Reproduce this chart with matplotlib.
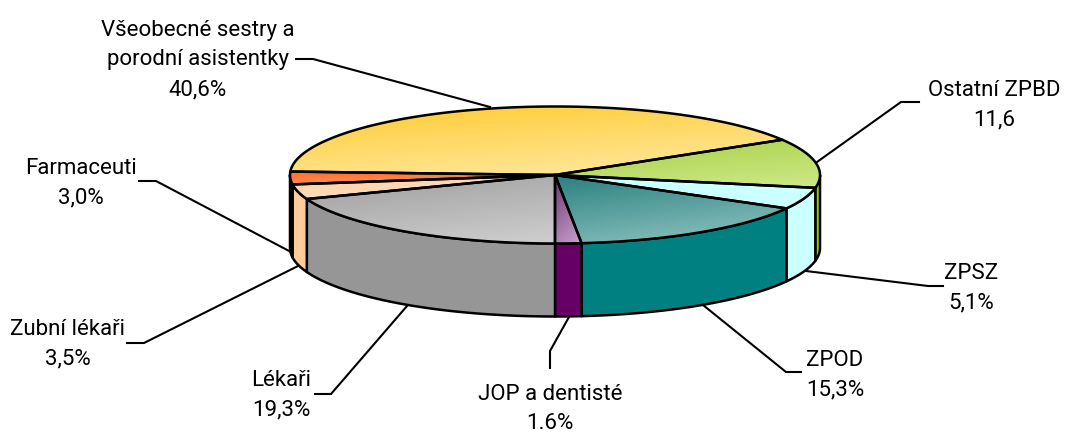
# 3D-style pie of health workers by group
import matplotlib
matplotlib.use('Agg')
import matplotlib.pyplot as plt
from matplotlib.colors import to_rgb
from matplotlib.patches import Polygon
import numpy as np

plt.rcParams['font.family'] = ['Roboto', 'Liberation Sans', 'DejaVu Sans']

# clockwise, starting at the yellow/green boundary
groups = ["Ostatní ZPBD", "ZPSZ", "ZPOD", "JOP a dentisté", "Lékaři",
          "Zubní lékaři", "Farmaceuti", "Všeobecné sestry a\nporodní asistentky"]
shares = [11.6, 5.1, 15.3, 1.6, 19.3, 3.5, 3.0, 40.6]
share_text = ["11,6", "5,1%", "15,3%", "1.6%", "19,3%", "3,5%", "3,0%", "40,6%"]

side_colors = ["#99CC00", "#CCFFFF", "#008080", "#660066", "#969696", "#FFCC99", "#FF6600", "#FFCC33"]
top_dark = ["#A6D044", "#CCFFFF", "#2A8080", "#6F3A70", "#9E9E9E", "#FFD3A8", "#FF6A2A", "#FFCB33"]
top_light = ["#CFE98A", "#CCFFFF", "#93C7C3", "#C9A3CF", "#CFCFCF", "#FFDDBC", "#FF9A60", "#FFEBA5"]

# label centre and leader line, pixels of the figure
label_pos = [(994, 105), (971, 288), (835, 375), (550, 409), (281, 395), (68, 344), (81, 183), (198, 60)]
leaders = [
    [(919, 103), (901, 103), (817, 163)],
    [(806, 272), (928, 287), (943, 287)],
    [(703, 306), (786, 373), (801, 373)],
    [(569, 318), (550, 352), (550, 369)],
    [(407, 307), (331, 395), (315, 395)],
    [(298, 267), (144, 344), (127, 344)],
    [(291, 253), (156, 182), (139, 182)],
    [(490, 108), (313, 60), (296, 60)],
]

cx, cy, rx, ry, depth = 555, 176, 265, 68.5, 73
start_angle = 30.96
edge_lw = 1.8


def rim(a0, a1, dy=0):
    t = np.radians(np.linspace(a0, a1, max(int(abs(a1 - a0) * 2), 2)))
    return np.column_stack([cx + rx * np.cos(t), cy + dy - ry * np.sin(t)])


fig = plt.figure(figsize=(10.65, 4.35), dpi=100)
ax = fig.add_axes([0, 0, 1, 1])
ax.set_xlim(0, 1065)
ax.set_ylim(435, 0)
ax.axis('off')

ends = start_angle - np.cumsum(shares) * 3.6
starts = np.concatenate([[start_angle], ends[:-1]])

# outer wall, only the front half can be seen
for a0, a1, col in zip(starts, ends, side_colors):
    lo, hi = max(a1, -180), min(a0, 0)
    if lo >= hi:
        continue
    pts = np.vstack([rim(hi, lo), rim(lo, hi, depth)])
    ax.add_patch(Polygon(pts, closed=True, fc=col, ec='black', lw=edge_lw, joinstyle='round', zorder=2))

# top face with a gradient clipped to each slice
for a0, a1, c0, c1 in zip(starts, ends, top_dark, top_light):
    pts = np.vstack([[(cx, cy)], rim(a0, a1)])
    x0, y0 = pts.min(axis=0)
    x1, y1 = pts.max(axis=0)
    u, v = np.meshgrid(np.linspace(0, 1, 80), np.linspace(0, 1, 80))
    t = (0.7 * v + 0.3 * u)[..., None]
    img = np.array(to_rgb(c0)) * (1 - t) + np.array(to_rgb(c1)) * t
    im = ax.imshow(img, extent=(x0, x1, y1, y0), aspect='auto', zorder=3, interpolation='bilinear')
    outline = Polygon(pts, closed=True, fc='none', ec='black', lw=edge_lw, joinstyle='round', zorder=4)
    ax.add_patch(outline)
    im.set_clip_path(outline)

ax.set_xlim(0, 1065)
ax.set_ylim(435, 0)

for line in leaders:
    xs, ys = zip(*line)
    ax.plot(xs, ys, color='black', lw=1.5, zorder=1, solid_joinstyle='miter')

for name, val, (x, y) in zip(groups, share_text, label_pos):
    ax.text(x, y, name + "\n" + val, ha='center', va='center', fontsize=16,
            linespacing=1.55, color='black')

plt.savefig("out.png", dpi=100)
plt.close()
